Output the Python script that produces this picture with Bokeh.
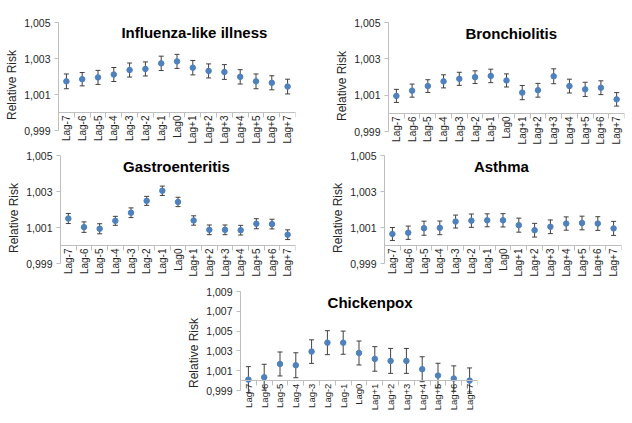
import math
from bokeh.plotting import figure
from bokeh.models import (FactorRange, Range1d, FixedTicker, LinearAxis, CustomJSTickFormatter,
                          Whisker, ColumnDataSource, Label, TeeHead, Spacer)
from bokeh.layouts import column, row
from bokeh.embed import file_html
from bokeh.resources import INLINE

lags = ["Lag-7", "Lag-6", "Lag-5", "Lag-4", "Lag-3", "Lag-2", "Lag-1", "Lag0",
        "Lag+1", "Lag+2", "Lag+3", "Lag+4", "Lag+5", "Lag+6", "Lag+7"]

ili_rr = [1.00173, 1.00185, 1.00195, 1.00211, 1.00236, 1.00242, 1.00273, 1.00284,
          1.00249, 1.00231, 1.00225, 1.00198, 1.00173, 1.00165, 1.00144]
ili_ci = [0.00041, 0.00037, 0.00039, 0.00039, 0.00039, 0.00039, 0.00040, 0.00039,
          0.00040, 0.00039, 0.00041, 0.00040, 0.00041, 0.00039, 0.00041]

bro_rr = [1.00096, 1.00125, 1.00150, 1.00176, 1.00190, 1.00199, 1.00206, 1.00181,
          1.00114, 1.00127, 1.00204, 1.00150, 1.00132, 1.00141, 1.00077]
bro_ci = [0.00036, 0.00036, 0.00035, 0.00036, 0.00036, 0.00035, 0.00037, 0.00036,
          0.00039, 0.00038, 0.00041, 0.00038, 0.00039, 0.00038, 0.00037]

gas_rr = [1.00150, 1.00102, 1.00093, 1.00137, 1.00182, 1.00248, 1.00304, 1.00242,
          1.00139, 1.00087, 1.00087, 1.00085, 1.00121, 1.00119, 1.00060]
gas_ci = [0.00028, 0.00029, 0.00028, 0.00025, 0.00027, 0.00025, 0.00026, 0.00026,
          0.00026, 0.00027, 0.00027, 0.00027, 0.00028, 0.00027, 0.00027]

ast_rr = [1.00064, 1.00071, 1.00096, 1.00098, 1.00133, 1.00138, 1.00140, 1.00140,
          1.00113, 1.00085, 1.00104, 1.00122, 1.00125, 1.00122, 1.00095]
ast_ci = [0.00036, 0.00037, 0.00039, 0.00038, 0.00036, 0.00037, 0.00036, 0.00037,
          0.00039, 0.00038, 0.00038, 0.00037, 0.00038, 0.00038, 0.00039]

chx_rr = [1.00010, 1.00034, 1.00168, 1.00155, 1.00293, 1.00383, 1.00383, 1.00279,
          1.00219, 1.00199, 1.00199, 1.00115, 1.00051, 1.00021, 1.00000]
chx_ci = [0.00131, 0.00131, 0.00121, 0.00126, 0.00119, 0.00121, 0.00117, 0.00121,
          0.00124, 0.00126, 0.00126, 0.00126, 0.00124, 0.00128, 0.00128]

ticks_small = [0.999, 1.001, 1.003, 1.005]
ticks_chx = [0.999, 1.001, 1.003, 1.005, 1.007, 1.009]

titles = ["Influenza-like illness", "Bronchiolitis", "Gastroenteritis", "Asthma", "Chickenpox"]

FONT = "Liberation Sans"
AXIS_GRAY = "#BFBFBF"
TEXT_GRAY = "#262626"
BLUE = "#4F81BD"
ERR = "#404040"


def panel(title, rr, ci, yticks, fw, axis_px, ext_px, borders, tpos, lab_size="10px"):
    left, right, top = borders
    t0, t1 = yticks[0], yticks[-1]
    y_start = t0 - (t1 - t0) * ext_px / axis_px
    src = ColumnDataSource(dict(
        lag=lags, rr=rr,
        upper=[v + c for v, c in zip(rr, ci)],
        lower=[v - c for v, c in zip(rr, ci)],
    ))
    p = figure(x_range=FactorRange(*lags), y_range=Range1d(y_start, t1),
               frame_width=fw, frame_height=axis_px + ext_px,
               min_border_left=left, min_border_right=right,
               min_border_top=top, min_border_bottom=0,
               toolbar_location=None, output_backend="svg")
    p.outline_line_color = None
    p.xgrid.visible = False
    p.ygrid.visible = False

    # category label axis (crosses at 1.000)
    xa = p.xaxis[0]
    xa.fixed_location = 1.0
    xa.major_tick_line_color = None
    xa.major_tick_out = 0
    xa.major_tick_in = 0
    xa.axis_line_color = AXIS_GRAY
    xa.major_label_orientation = math.pi / 2
    xa.major_label_standoff = 3
    xa.major_label_text_font = FONT
    xa.major_label_text_font_size = lab_size
    xa.major_label_text_color = TEXT_GRAY

    # boundary tick marks between categories
    bt = LinearAxis(ticker=FixedTicker(ticks=list(range(0, len(lags) + 1))),
                    formatter=CustomJSTickFormatter(code="return ''"),
                    fixed_location=1.0, major_tick_out=5, major_tick_in=0,
                    major_tick_line_color=AXIS_GRAY, axis_line_color=AXIS_GRAY,
                    minor_tick_line_color=None)
    p.add_layout(bt, "below")

    ya = p.yaxis[0]
    ya.bounds = (t0, t1)
    ya.ticker = FixedTicker(ticks=yticks)
    ya.formatter = CustomJSTickFormatter(code="return tick.toFixed(3).replace('.', ',')")
    ya.major_tick_out = 4
    ya.major_tick_in = 0
    ya.minor_tick_line_color = None
    ya.axis_line_color = AXIS_GRAY
    ya.major_tick_line_color = AXIS_GRAY
    ya.major_label_standoff = 4
    ya.major_label_text_font = FONT
    ya.major_label_text_font_size = "10.5px"
    ya.major_label_text_color = TEXT_GRAY
    ya.axis_label = "Relative Risk"
    ya.axis_label_standoff = 2
    ya.axis_label_text_font = FONT
    ya.axis_label_text_font_style = "normal"
    ya.axis_label_text_font_size = "12px"
    ya.axis_label_text_color = TEXT_GRAY

    w = Whisker(base="lag", upper="upper", lower="lower", source=src, dimension="height",
                line_color=ERR, line_width=1,
                upper_head=TeeHead(size=5, line_color=ERR, line_width=1),
                lower_head=TeeHead(size=5, line_color=ERR, line_width=1))
    p.add_layout(w)
    p.scatter("lag", "rr", source=src, size=5.5, marker="circle",
              fill_color=BLUE, line_color=BLUE)

    p.add_layout(Label(x=tpos[0], y=tpos[1], text=title, text_font=FONT,
                       text_font_style="bold", text_font_size="15px",
                       text_align="center", text_baseline="middle", text_color="#000000"))
    return p


p1 = panel(titles[0], ili_rr, ili_ci, ticks_small, 237, 108, 17, (58, 21, 22), (8.6, 1.00444))
p2 = panel(titles[1], bro_rr, bro_ci, ticks_small, 236, 109, 18, (72, 6, 20), (7.8, 1.0044))
p3 = panel(titles[2], gas_rr, gas_ci, ticks_small, 235, 108, 17, (60, 21, 8), (7.4, 1.00439))
p4 = panel(titles[3], ast_rr, ast_ci, ticks_small, 237, 108, 17, (68, 6, 8), (7.4, 1.0044))
p5 = panel(titles[4], chx_rr, chx_ci, ticks_chx, 237, 99, 24, (60, 10, 11), (8.2, 1.0079),
           lab_size="9.5px")

layout = column(row(p1, p2), row(p3, p4), row(Spacer(width=180, height=10), p5))

open("out.html", "w").write(file_html(layout, INLINE))
